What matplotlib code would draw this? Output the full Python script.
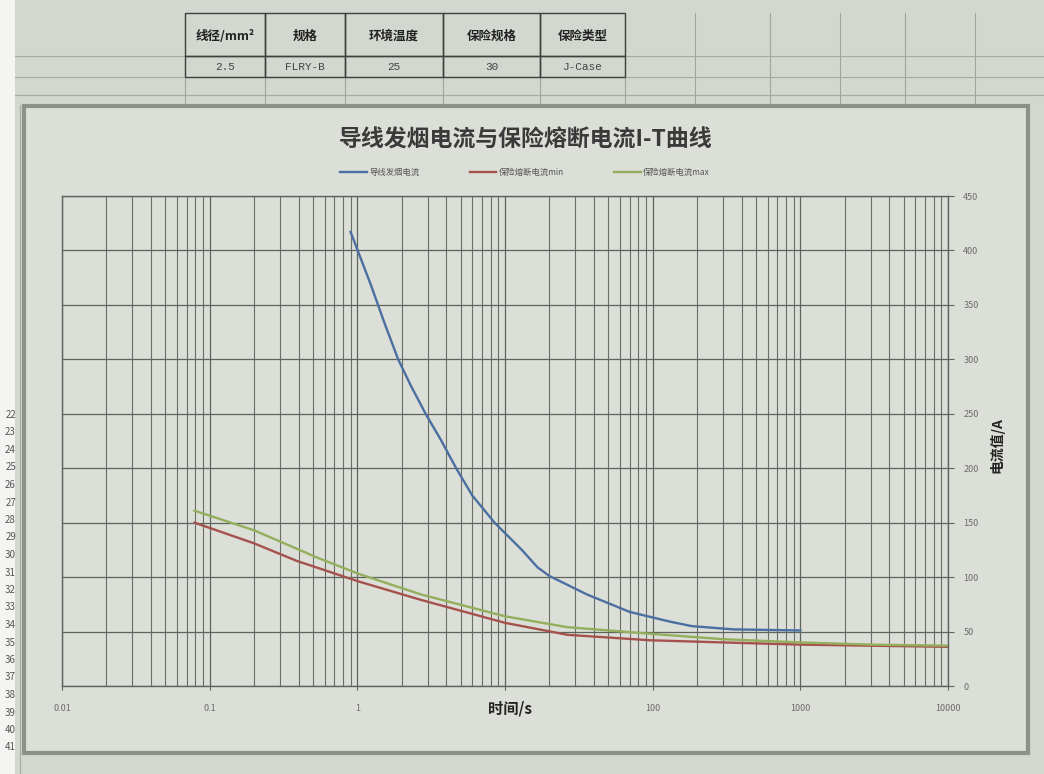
import matplotlib
matplotlib.use('Agg')
import matplotlib.pyplot as plt
from matplotlib.patches import Rectangle
from matplotlib.lines import Line2D
from matplotlib.ticker import FixedLocator, LogLocator, NullFormatter

plt.rcParams['font.family'] = ['Noto Sans CJK SC', 'DejaVu Sans']

# spreadsheet table above the chart
table_headers = ['线径/mm²', '规格', '环境温度', '保险规格', '保险类型']
table_values = ['2.5', 'FLRY-B', '25', '30', 'J-Case']

# wire smoke current (I-T)
smoke_t = [0.9, 1.23, 1.54, 1.89, 2.32, 2.9, 3.68, 4.67, 6.0, 8.5, 13, 16.6, 20,
           36, 70, 132, 184, 350, 1000]
smoke_i = [417, 369, 332, 300, 275, 250, 226, 200, 175, 150, 125, 109, 101,
           84, 68, 59, 55, 52, 51]

# fuse blow current, min / max
fuse_min_t = [0.079, 0.2, 0.387, 1.02, 2.71, 10, 26.5, 96, 300, 1000, 3000, 10000]
fuse_min_i = [150, 131, 115, 96, 79, 58, 47, 42, 40, 38, 37, 36]
fuse_max_t = [0.079, 0.2, 0.533, 1.02, 2.71, 10, 26.5, 96, 300, 1000, 3000, 10000]
fuse_max_i = [161, 143, 118, 103, 84, 64, 54, 48, 43, 40, 38, 37]

legend_labels = ['导线发烟电流', '保险熔断电流min', '保险熔断电流max']
x_ticks = [0.01, 0.1, 1, 10, 100, 1000, 10000]
x_tick_labels = ['0.01', '0.1', '1', '', '100', '1000', '10000']
y_ticks = list(range(0, 451, 50))

W, H = 1044, 774

def fx(x):
    return x / W

def fy(y):
    return 1 - y / H

fig = plt.figure(figsize=(W / 100, H / 100), dpi=100)
fig.patch.set_facecolor('#f4f5f3')

# spreadsheet background + cell grid
fig.add_artist(Rectangle((fx(15), fy(774)), fx(1044), 1, transform=fig.transFigure,
                         facecolor='#d2d7d0', edgecolor='none', zorder=0))
for x in [185, 265, 345, 443, 540, 625, 695, 770, 840, 905, 975]:
    fig.add_artist(Line2D([fx(x), fx(x)], [fy(13), fy(105)], transform=fig.transFigure,
                          color='#9ea39b', lw=0.8, zorder=1))
for y in [56, 77, 95]:
    fig.add_artist(Line2D([fx(15), fx(1044)], [fy(y), fy(y)], transform=fig.transFigure,
                          color='#a5aaa2', lw=0.8, zorder=1))
fig.add_artist(Line2D([fx(20), fx(20)], [fy(105), fy(774)], transform=fig.transFigure,
                      color='#a5aaa2', lw=0.8, zorder=1))

# table cells with borders
col_edges = [185, 265, 345, 443, 540, 625]
for i in range(len(table_headers)):
    x0, x1 = col_edges[i], col_edges[i + 1]
    fig.add_artist(Rectangle((fx(x0), fy(77)), fx(x1 - x0), 21 / H, transform=fig.transFigure,
                             facecolor='none', edgecolor='#3e423c', lw=1.0, zorder=2))
    fig.add_artist(Rectangle((fx(x0), fy(56)), fx(x1 - x0), 43 / H, transform=fig.transFigure,
                             facecolor='none', edgecolor='#3e423c', lw=1.0, zorder=2))
    fig.text(fx((x0 + x1) / 2), fy(36), table_headers[i], ha='center', va='center',
             fontsize=9, fontweight='bold', color='#222222', zorder=3)
    fig.text(fx((x0 + x1) / 2), fy(67), table_values[i], ha='center', va='center',
             fontsize=8, color='#444444', family=['Liberation Mono', 'DejaVu Sans'], zorder=3)

# row numbers on the left edge
for k, row in enumerate(range(22, 42)):
    fig.text(fx(16), fy(415 + k * 17.5), str(row), ha='right', va='center',
             fontsize=7, color='#555555', zorder=3)

# chart area
fig.add_artist(Rectangle((fx(24), fy(753)), fx(1004), (753 - 106) / H, transform=fig.transFigure,
                         facecolor='#dbdfd8', edgecolor='#8d918a', lw=3, zorder=2))

ax = fig.add_axes([fx(62), fy(686), fx(948 - 62), (686 - 196) / H])
ax.set_zorder(5)
ax.set_facecolor('#dbdfd8')

ax.plot(smoke_t, smoke_i, color='#4a6fa0', lw=1.7, label=legend_labels[0])
ax.plot(fuse_min_t, fuse_min_i, color='#a6514d', lw=1.7, label=legend_labels[1])
ax.plot(fuse_max_t, fuse_max_i, color='#93ae5c', lw=1.7, label=legend_labels[2])

ax.set_xscale('log')
ax.set_xlim(0.01, 10000)
ax.set_ylim(0, 450)
ax.xaxis.set_major_locator(FixedLocator(x_ticks))
ax.set_xticklabels(x_tick_labels)
ax.xaxis.set_minor_locator(LogLocator(base=10, subs=range(2, 10), numticks=20))
ax.xaxis.set_minor_formatter(NullFormatter())
ax.set_yticks(y_ticks)
ax.yaxis.tick_right()

ax.grid(True, which='major', color='#5f635d', lw=0.9)
ax.grid(True, which='minor', axis='x', color='#6a6e68', lw=0.8)
ax.set_axisbelow(True)
for s in ax.spines.values():
    s.set_color('#5f635d')
    s.set_linewidth(1.0)
ax.tick_params(axis='y', which='major', length=4, pad=7, labelsize=6.5,
               labelcolor='#6b6b6b', color='#5f635d')
ax.tick_params(axis='x', which='major', length=3, pad=10, labelsize=6.5,
               labelcolor='#6b6b6b', color='#5f635d')
ax.tick_params(axis='x', which='minor', length=0)

fig.text(fx(510), fy(708), '时间/s', ha='center', va='center', fontsize=11,
         fontweight='bold', color='#222222', zorder=6)
fig.text(fx(997), fy(445), '电流值/A', ha='center', va='center', rotation=90,
         fontsize=10, fontweight='bold', color='#222222', zorder=6)
fig.text(fx(526), fy(140), '导线发烟电流与保险熔断电流I-T曲线', ha='center', va='center',
         fontsize=16.5, fontweight='bold', color='#3a3a3a', zorder=6)

leg = fig.legend(loc='center', bbox_to_anchor=(fx(525), fy(172)), ncol=3, frameon=False,
                 fontsize=6, handlelength=3.2, columnspacing=6, handletextpad=0.3)
for t in leg.get_texts():
    t.set_color('#555555')
leg.set_zorder(6)

fig.savefig('out.png', dpi=100)
